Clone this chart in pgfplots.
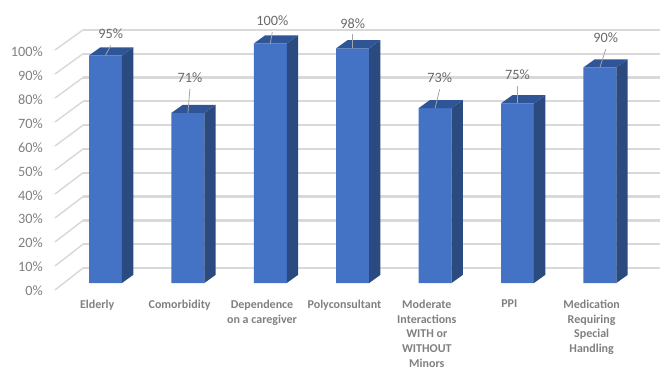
\documentclass[border=0pt]{standalone}
\usepackage{pgfplots}
\usepackage{pgfplotstable}
\usepackage{fontspec}
\setmainfont{Carlito}
\pgfplotsset{compat=1.18}

\definecolor{barfront}{HTML}{4472C4}
\definecolor{bartop}{HTML}{2F5597}
\definecolor{barside}{HTML}{2A4A80}
\definecolor{gridgrey}{HTML}{D9D9D9}
\definecolor{ticktext}{HTML}{808080}
\definecolor{valuetext}{HTML}{6A6A6A}
\definecolor{leader}{HTML}{A6A6A6}

% index, percentage, label offset (x), label rise, leader rise, in pt
\pgfplotstableread{
idx val lx   ly    ey
0   95  3.9  16.5  7.5
1   71  1.5  26.3  18.0
2   100 1.5  17.1  8.6
3   98  0.0  18.8  10.5
4   73  3.5  22.5  14.3
5   75  0.0  21.3  13.1
6   90  4.4  22.1  13.7
}\shares

\begin{document}
\begin{tikzpicture}
\path[use as bounding box] (0,0) rectangle (495pt,276.75pt);
\begin{axis}[
  at={(35.25pt,55.5pt)}, anchor=south west,
  scale only axis, width=459.75pt, height=221.25pt,
  xmin=-0.70995, xmax=6.7294, ymin=-5.01, ymax=118.16,
  clip=false,
  axis line style={draw=none},
  major tick length=0pt,
  tick style={draw=none},
  xtick={0,1,2,3,4,5,6},
  xticklabels={Elderly,Comorbidity,Dependence\\on a caregiver,Polyconsultant,
    Moderate\\Interactions\\WITH or\\WITHOUT\\Minors,PPI,
    Medication\\Requiring\\Special\\Handling},
  x tick label style={font=\fontsize{9}{11}\selectfont\bfseries,
    text=ticktext, align=center, anchor=north, inner sep=0pt,
    xshift=-6.2pt, yshift=-3.6pt},
  ytick={0,10,20,30,40,50,60,70,80,90,100},
  yticklabels={0\%,10\%,20\%,30\%,40\%,50\%,60\%,70\%,80\%,90\%,100\%},
  y tick label style={font=\fontsize{10.7}{12}\selectfont,
    text=ticktext, anchor=east, inner sep=0pt, xshift=-3pt, yshift=-6pt},
]
% back wall gridlines and the receding side-wall lines
\pgfplotsforeachungrouped \front/\back in
  {-2.92/6.26,7.1/16.2,17.12/26.14,27.14/36.08,37.16/46.02,47.18/55.96,
   57.2/65.9,67.22/75.84,77.24/85.78,87.26/95.72,97.28/105.66}{
  \edef\doplot{\noexpand\addplot[gridgrey, line width=1.7pt, forget plot]
    coordinates {(-0.273,\back) (6.7294,\back)};
    \noexpand\addplot[gridgrey, line width=1.1pt, forget plot]
    coordinates {(-0.613,\front) (-0.273,\back)};}
  \doplot
}
% front faces
\addplot[ybar, bar width=0.4, bar shift=0pt, fill=barfront, draw=none, forget plot]
  table[x=idx, y=val] {\shares};
% side and top faces, leaders and value labels for each bar
\pgfplotsforeachungrouped \i in {0,...,6}{
  \pgfplotstablegetelem{\i}{val}\of\shares \let\v\pgfplotsretval
  \pgfplotstablegetelem{\i}{lx}\of\shares \let\lx\pgfplotsretval
  \pgfplotstablegetelem{\i}{ly}\of\shares \let\ly\pgfplotsretval
  \pgfplotstablegetelem{\i}{ey}\of\shares \let\ey\pgfplotsretval
  \pgfmathsetmacro\xl{\i-0.2}
  \pgfmathsetmacro\xr{\i+0.2}
  \pgfmathsetmacro\xd{\i+0.2+0.137}
  \pgfmathsetmacro\xb{\i-0.2+0.137}
  \pgfmathsetmacro\yd{\v+3.4}
  \edef\doplot{\noexpand\addplot[fill=barside, draw=none, forget plot] coordinates
      {(\xr,0) (\xd,3.4) (\xd,\yd) (\xr,\v)} -- cycle;
    \noexpand\addplot[fill=bartop, draw=none, forget plot] coordinates
      {(\xl,\v) (\xb,\yd) (\xd,\yd) (\xr,\v)} -- cycle;
    \noexpand\draw[leader, line width=0.6pt] (axis cs:\i,\v)
      -- ([xshift=\lx pt, yshift=\ey pt]axis cs:\i,\v);
    \noexpand\node[font=\noexpand\fontsize{10.7}{12}\noexpand\selectfont,
      text=valuetext, inner sep=0pt]
      at ([xshift=\lx pt, yshift=\ly pt]axis cs:\i,\v) {\v\noexpand\%};}
  \doplot
}
\end{axis}
\end{tikzpicture}
\end{document}
